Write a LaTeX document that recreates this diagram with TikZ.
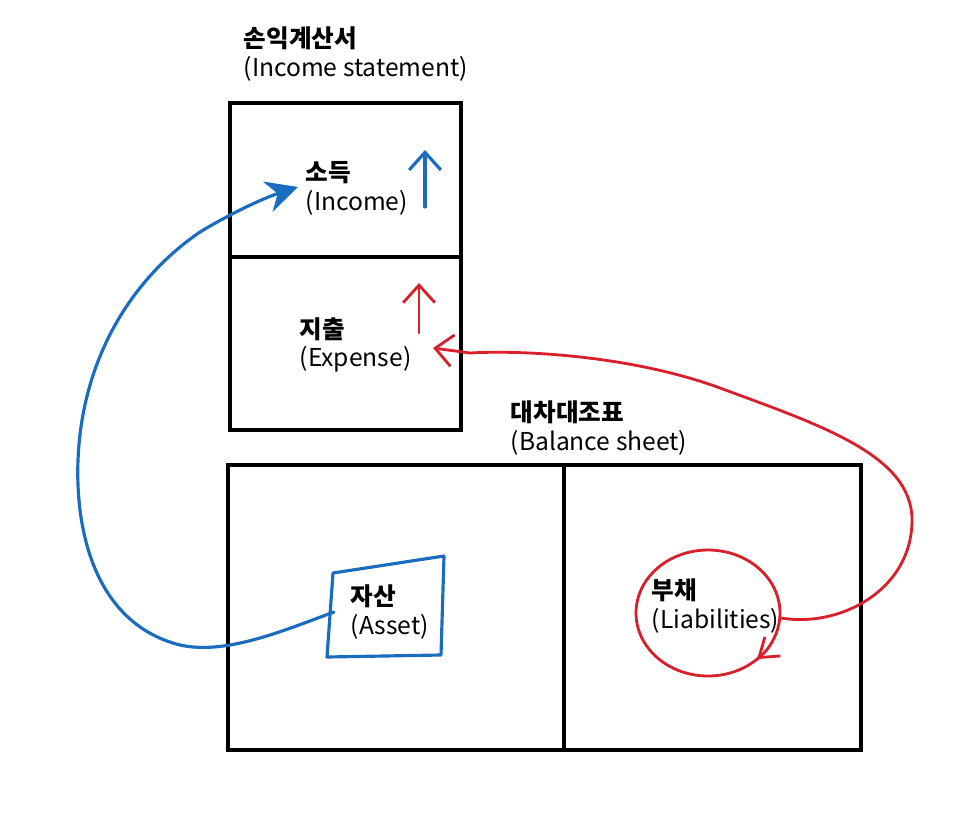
\documentclass[tikz,border=0pt]{standalone}
\usepackage{fontspec}
\setmainfont{Noto Sans CJK KR}
\usepackage{tikz}
\usetikzlibrary{arrows.meta, positioning, calc}
\definecolor{penBlue}{HTML}{1A6CBE}
\definecolor{penRed}{HTML}{D81F2A}
\tikzset{
  sheet/.style={draw=black, line width=0.9pt},
  lbl/.style={anchor=west, inner sep=0pt, align=left, font=\fontsize{7}{8.2}\selectfont},
  bluepen/.style={penBlue, line width=0.9pt, line cap=round, line join=round},
  redpen/.style={penRed, line width=0.8pt, line cap=round, line join=round}
}

\begin{document}
\begin{tikzpicture}[x=0.01cm, y=-0.01cm]
  \useasboundingbox (0,0) rectangle (977,837);

  % income statement
  \node[lbl] (istitle) at (243,54) {\textbf{손익계산서}\\(Income statement)};
  \draw[sheet] (230,103) rectangle (461,430);
  \draw[sheet] (230,257) -- (461,257);
  \node[lbl] (income) at (305,188) {\textbf{소득}\\(Income)};
  \node[lbl] (expense) at (299,345) {\textbf{지출}\\(Expense)};

  % balance sheet
  \node[lbl] (bstitle) at (510,428) {\textbf{대차대조표}\\(Balance sheet)};
  \draw[sheet] (228,465) rectangle (861,750);
  \draw[sheet] (564,465) -- (564,750);
  \node[lbl] (asset) at (350,612) {\textbf{자산}\\(Asset)};
  \node[lbl] (liab) at (651,606) {\textbf{부채}\\(Liabilities)};

  \draw[bluepen] (333,573) -- (444,556) -- (441,655) -- (327,657) -- cycle;
  \draw[redpen, -{Straight Barb[length=5pt, width=7pt]}]
    (708,613) ++(40:72 and 63) arc[start angle=40, end angle=407, x radius=72, y radius=63];

  \coordinate (assetW) at (334,612);
  \coordinate (incomeTip) at (298,187);
  \coordinate (liabE) at (781,618);
  \coordinate (expenseTip) at (433,348);
  \coordinate (incUp) at (425,207);
  \coordinate (expUp) at (419,333);

  % flows
  \draw[bluepen, -{Stealth[length=9pt, width=9pt]}] (assetW)
    .. controls (280,632) and (225,655) .. (180,645)
    .. controls (100,625) and (75,540) .. (78,460)
    .. controls (82,360) and (130,280) .. (200,232)
    .. controls (240,208) and (270,196) .. (incomeTip);
  \draw[redpen, -{Straight Barb[length=5pt, width=9pt]}] (liabE)
    .. controls (840,628) and (912,590) .. (912,520)
    .. controls (912,455) and (820,425) .. (720,388)
    .. controls (630,355) and (520,350) .. (470,353)
    -- (expenseTip);
  \draw[bluepen, -{Straight Barb[length=5pt, width=9pt]}] (incUp) -- ++(0,-57);
  \draw[redpen, -{Straight Barb[length=5pt, width=9pt]}] (expUp) -- ++(0,-50);
\end{tikzpicture}
\end{document}
